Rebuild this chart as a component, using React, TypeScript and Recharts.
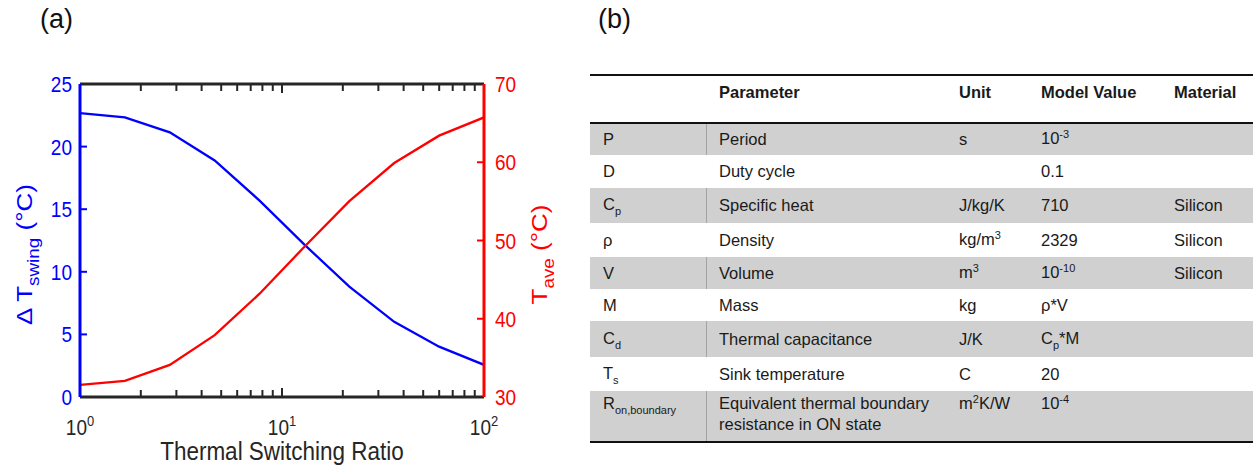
import { LineChart, Line, XAxis, YAxis, ReferenceLine } from 'recharts'

// logspace(0, 2, 10)
const ratio = [1, 1.668, 2.783, 4.642, 7.743, 12.915, 21.544, 35.938, 59.948, 100]
const tSwing = [22.67, 22.33, 21.14, 18.89, 15.69, 12.17, 8.81, 6.0, 4.02, 2.57]
const tAve = [31.56, 32.07, 34.1, 37.9, 43.2, 49.2, 55.03, 59.9, 63.4, 65.73]

const xTicks = [1, 2, 3, 4, 5, 6, 7, 8, 9, 10, 20, 30, 40, 50, 60, 70, 80, 90, 100]
const decades = [1, 10, 100]
const swingTicks = [0, 5, 10, 15, 20, 25]
const aveTicks = [30, 40, 50, 60, 70]

const tableSymbols = ['P', 'D', 'C|p', 'ρ', 'V', 'M', 'C|d', 'T|s', 'R|on,boundary']
const tableParams = [
  'Period',
  'Duty cycle',
  'Specific heat',
  'Density',
  'Volume',
  'Mass',
  'Thermal capacitance',
  'Sink temperature',
  'Equivalent thermal boundary\nresistance in ON state',
]
const tableUnits = ['s', '', 'J/kg/K', 'kg/m^3', 'm^3', 'kg', 'J/K', 'C', 'm^2K/W']
const tableValues = ['10^-3', '0.1', '710', '2329', '10^-10', 'ρ*V', 'C|p*M', '20', '10^-4']
const tableMaterials = ['', '', 'Silicon', 'Silicon', 'Silicon', '', '', '', '']

const data = ratio.map((r, i) => ({ ratio: r, swing: tSwing[i], ave: tAve[i] }))

const AXIS = '#262626'
const BLUE = '#0000ff'
const RED = '#ff0000'
const FONT = '"Liberation Sans", Arial, Helvetica, sans-serif'
// the source figure is stretched vertically a little
const STRETCH = 1.18

// plot box size in px, only used to turn the inward tick length into axis units
const PLOT_W = 404
const PLOT_H = 313
const TICK_PX = 7
const MAJOR_PX = 9
const tickY = (px: number) => (25 * px) / PLOT_H
const tickX = Math.pow(10, (2 * TICK_PX) / PLOT_W)

function BottomTick({ x, y, payload }: any) {
  const v = payload.value
  if (!decades.includes(v)) return <g />
  return (
    <g transform={`translate(${x}, ${y + 38}) scale(1, ${STRETCH})`}>
      <text x={0} y={0} textAnchor="middle" fill={AXIS} fontSize={19} fontFamily={FONT}>
        10
        <tspan dy={-8} fontSize={13}>
          {Math.round(Math.log10(v))}
        </tspan>
      </text>
    </g>
  )
}

function LeftTick({ x, y, payload }: any) {
  return (
    <g transform={`translate(${x - 8}, ${y}) scale(1, ${STRETCH})`}>
      <text x={0} y={0} dy="0.36em" textAnchor="end" fill={BLUE} fontSize={19} fontFamily={FONT}>
        {payload.value}
      </text>
    </g>
  )
}

function RightTick({ x, y, payload }: any) {
  return (
    <g transform={`translate(${x + 11}, ${y}) scale(1, ${STRETCH})`}>
      <text x={0} y={0} dy="0.36em" textAnchor="start" fill={RED} fontSize={19} fontFamily={FONT}>
        {payload.value}
      </text>
    </g>
  )
}

function LeftTitle({ viewBox }: any) {
  const x = viewBox.x + 32
  const y = viewBox.y + viewBox.height / 2 + 14
  return (
    <g transform={`translate(${x}, ${y}) rotate(-90) scale(${STRETCH}, 1)`}>
      <text x={0} y={0} textAnchor="middle" fill={BLUE} fontSize={22} fontFamily={FONT}>
        Δ T<tspan dy={7} fontSize={16}>swing</tspan>
        <tspan dy={-7}> (°C)</tspan>
      </text>
    </g>
  )
}

function RightTitle({ viewBox }: any) {
  const x = viewBox.x + 63
  const y = viewBox.y + viewBox.height / 2 + 14
  return (
    <g transform={`translate(${x}, ${y}) rotate(-90) scale(${STRETCH}, 1)`}>
      <text x={0} y={0} textAnchor="middle" fill={RED} fontSize={22} fontFamily={FONT}>
        T<tspan dy={7} fontSize={16}>ave</tspan>
        <tspan dy={-7}> (°C)</tspan>
      </text>
    </g>
  )
}

function BottomTitle({ viewBox }: any) {
  return (
    <g transform={`translate(${viewBox.x + viewBox.width / 2}, ${viewBox.y + 63}) scale(1, ${STRETCH})`}>
      <text x={0} y={0} textAnchor="middle" fill={AXIS} fontSize={22.5} fontFamily={FONT}>
        Thermal Switching Ratio
      </text>
    </g>
  )
}

// 'X|sub' -> subscript, 'X^sup' -> superscript
function Rich({ s }: { s: string }) {
  if (s.includes('\n')) {
    return (
      <>
        {s.split('\n').map((line, i) => (
          <div key={i}>{line}</div>
        ))}
      </>
    )
  }
  if (s.includes('|')) {
    const [base, rest] = s.split('|')
    const m = rest.match(/^([^*]*)(.*)$/) as RegExpMatchArray
    return (
      <span>
        {base}
        <span style={{ fontSize: 11, position: 'relative', top: 5 }}>{m[1]}</span>
        {m[2]}
      </span>
    )
  }
  if (s.includes('^')) {
    const [base, sup] = s.split('^')
    const m = sup.match(/^([-0-9]+)(.*)$/) as RegExpMatchArray
    return (
      <span>
        {base}
        <span style={{ fontSize: 11, position: 'relative', top: -6 }}>{m[1]}</span>
        {m[2]}
      </span>
    )
  }
  return <span>{s}</span>
}

const colX = [603, 719, 959, 1041, 1174]
const rowTops = [124, 155, 188, 223, 257, 289, 321, 357, 391, 441]

function ParamTable() {
  const header = ['', 'Parameter', 'Unit', 'Model Value', 'Material']
  return (
    <div style={{ position: 'absolute', left: 0, top: 0, fontFamily: FONT, fontSize: 16.5, color: '#1a1a1a' }}>
      <div style={{ position: 'absolute', left: 590, top: 74, width: 663, height: 2, background: '#111' }} />
      {header.map((h, c) => (
        <div
          key={c}
          style={{
            position: 'absolute',
            left: colX[c],
            top: 81,
            height: 22,
            lineHeight: '22px',
            fontWeight: 'bold',
            whiteSpace: 'nowrap',
          }}
        >
          {h}
        </div>
      ))}
      <div style={{ position: 'absolute', left: 590, top: 122, width: 663, height: 2, background: '#111' }} />
      {tableSymbols.map((sym, r) => {
        const top = rowTops[r]
        const h = rowTops[r + 1] - top
        const gray = r % 2 === 0
        const multi = tableParams[r].includes('\n')
        const cells = [sym, tableParams[r], tableUnits[r], tableValues[r], tableMaterials[r]]
        return (
          <div
            key={r}
            style={{
              position: 'absolute',
              left: 590,
              top,
              width: 663,
              height: h,
              background: gray ? '#d0d0d0' : '#ffffff',
            }}
          >
            {gray && (
              <div style={{ position: 'absolute', left: 116, top: 0, width: 1, height: h, background: '#a3a3a3' }} />
            )}
            {cells.map((cell, c) => (
              <div
                key={c}
                style={{
                  position: 'absolute',
                  left: colX[c] - 590,
                  top: multi ? 2 : 0,
                  height: multi ? h - 2 : h,
                  display: 'flex',
                  flexDirection: 'column',
                  justifyContent: multi ? 'flex-start' : 'center',
                  lineHeight: '21px',
                  whiteSpace: 'nowrap',
                }}
              >
                <Rich s={cell} />
              </div>
            ))}
          </div>
        )
      })}
      <div style={{ position: 'absolute', left: 590, top: 441, width: 663, height: 2, background: '#111' }} />
    </div>
  )
}

export default function App() {
  const innerX = xTicks.slice(1, -1)
  return (
    <div
      style={{
        position: 'fixed',
        left: 0,
        top: 0,
        width: 1253,
        height: 465,
        background: '#fff',
        overflow: 'hidden',
        fontFamily: FONT,
      }}
    >
      <div style={{ position: 'absolute', left: 40, top: 4, fontSize: 27, color: '#111', lineHeight: '30px' }}>(a)</div>
      <div style={{ position: 'absolute', left: 598, top: 4, fontSize: 27, color: '#111', lineHeight: '30px' }}>(b)</div>
      <div style={{ position: 'absolute', left: 0, top: 0 }}>
        <LineChart width={560} height={465} data={data} margin={{ top: 84, right: 0, bottom: 0, left: 0 }}>
          <XAxis
            xAxisId="bottom"
            dataKey="ratio"
            type="number"
            scale="log"
            domain={[1, 100]}
            allowDataOverflow
            ticks={xTicks}
            interval={0}
            height={68}
            tickSize={0}
            tickMargin={0}
            tickLine={false}
            axisLine={{ stroke: AXIS, strokeWidth: 3 }}
            tick={<BottomTick />}
            label={{ content: <BottomTitle /> }}
          />
          <YAxis
            yAxisId="left"
            domain={[0, 25]}
            ticks={swingTicks}
            interval={0}
            width={80}
            tickSize={0}
            tickMargin={0}
            tickLine={false}
            axisLine={{ stroke: BLUE, strokeWidth: 3 }}
            tick={<LeftTick />}
            label={{ content: <LeftTitle /> }}
          />
          <YAxis
            yAxisId="right"
            orientation="right"
            domain={[30, 70]}
            ticks={aveTicks}
            interval={0}
            width={76}
            tickSize={0}
            tickMargin={0}
            tickLine={false}
            axisLine={{ stroke: RED, strokeWidth: 3 }}
            tick={<RightTick />}
            label={{ content: <RightTitle /> }}
          />
          {/* top box edge */}
          <ReferenceLine xAxisId="bottom" yAxisId="left" y={25} stroke={AXIS} strokeWidth={3} />
          {/* inward tick marks, MATLAB style */}
          {innerX.map((t) => (
            <ReferenceLine
              key={`b${t}`}
              xAxisId="bottom"
              yAxisId="left"
              segment={[
                { x: t, y: 0 },
                { x: t, y: tickY(decades.includes(t) ? MAJOR_PX : TICK_PX) },
              ]}
              stroke={AXIS}
              strokeWidth={2}
            />
          ))}
          {innerX.map((t) => (
            <ReferenceLine
              key={`t${t}`}
              xAxisId="bottom"
              yAxisId="left"
              segment={[
                { x: t, y: 25 },
                { x: t, y: 25 - tickY(decades.includes(t) ? MAJOR_PX : TICK_PX) },
              ]}
              stroke={AXIS}
              strokeWidth={2}
            />
          ))}
          {swingTicks.slice(1, -1).map((v) => (
            <ReferenceLine
              key={`l${v}`}
              xAxisId="bottom"
              yAxisId="left"
              segment={[
                { x: 1, y: v },
                { x: tickX, y: v },
              ]}
              stroke={BLUE}
              strokeWidth={2}
            />
          ))}
          {aveTicks.slice(1, -1).map((v) => (
            <ReferenceLine
              key={`r${v}`}
              xAxisId="bottom"
              yAxisId="right"
              segment={[
                { x: 100 / tickX, y: v },
                { x: 100, y: v },
              ]}
              stroke={RED}
              strokeWidth={2}
            />
          ))}
          <Line
            xAxisId="bottom"
            yAxisId="left"
            type="linear"
            dataKey="swing"
            stroke={BLUE}
            strokeWidth={2.3}
            dot={false}
            isAnimationActive={false}
          />
          <Line
            xAxisId="bottom"
            yAxisId="right"
            type="linear"
            dataKey="ave"
            stroke={RED}
            strokeWidth={2.3}
            dot={false}
            isAnimationActive={false}
          />
        </LineChart>
      </div>
      <ParamTable />
    </div>
  )
}
